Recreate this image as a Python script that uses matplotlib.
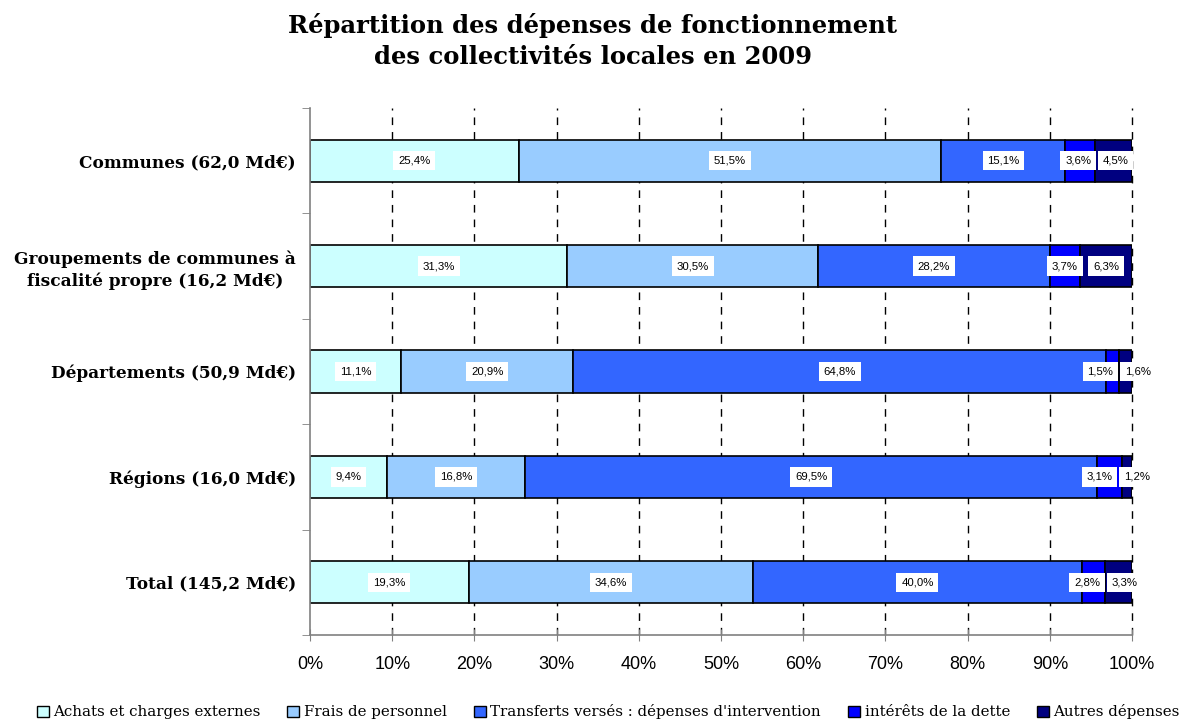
import matplotlib
matplotlib.use("Agg")
import matplotlib.pyplot as plt
import numpy as np
from matplotlib.patches import Patch

categories = ["Communes (62,0 Md€)",
              "Groupements de communes à\nfiscalité propre (16,2 Md€)",
              "Départements (50,9 Md€)",
              "Régions (16,0 Md€)",
              "Total (145,2 Md€)"]
series_names = ["Achats et charges externes", "Frais de personnel",
                "Transferts versés : dépenses d'intervention",
                "intérêts de la dette", "Autres dépenses"]
achats = [25.4, 31.3, 11.1, 9.4, 19.3]
frais = [51.5, 30.5, 20.9, 16.8, 34.6]
transferts = [15.1, 28.2, 64.8, 69.5, 40.0]
interets = [3.6, 3.7, 1.5, 3.1, 2.8]
autres = [4.5, 6.3, 1.6, 1.2, 3.3]
colors = ["#CCFFFF", "#99CCFF", "#3366FF", "#0000FF", "#000080"]
xtick_labels = ["0%", "10%", "20%", "30%", "40%", "50%", "60%", "70%", "80%", "90%", "100%"]

data = np.array([achats, frais, transferts, interets, autres], dtype=float)
shares = data / data.sum(axis=0) * 100  # 100% stacked

fig = plt.figure(figsize=(11.81, 7.2), dpi=100)
ax = fig.add_axes([310/1181, 1-635/720, (1132-310)/1181, (635-108)/720])

y = np.arange(len(categories))
left = np.zeros(len(categories))
texts = [[] for _ in categories]
for i in range(len(series_names)):
    ax.barh(y, shares[i], left=left, height=0.4, color=colors[i],
            edgecolor="black", linewidth=1.2, zorder=3)
    for j in range(len(categories)):
        t = ax.text(left[j] + shares[i][j] / 2, y[j],
                    f"{data[i][j]:.1f}%".replace(".", ","),
                    ha="center", va="center", fontsize=8.2,
                    family="Liberation Sans", zorder=5,
                    bbox=dict(boxstyle="square,pad=0.42", fc="white", ec="none"))
        texts[j].append(t)
    left += shares[i]

ax.set_xlim(0, 100)
ax.set_ylim(len(categories) - 0.5, -0.5)
ax.set_xticks(np.arange(0, 101, 10))
ax.set_xticklabels(xtick_labels, family="Liberation Sans", fontsize=13)
ax.tick_params(axis="x", direction="inout", length=8, color="#808080", pad=11)
ax.set_yticks(y)
ax.set_yticklabels(categories, family="DejaVu Serif", fontweight="bold",
                   fontsize=12.2, linespacing=1.35, multialignment="center")
ax.tick_params(axis="y", which="major", length=0, pad=14)
ax.set_yticks(np.arange(-0.5, len(categories), 1), minor=True)
ax.tick_params(axis="y", which="minor", direction="out", length=6, color="#808080")
ax.tick_params(axis="y", which="major", pad=10)
for s in ["top", "right"]:
    ax.spines[s].set_visible(False)
for s in ["left", "bottom"]:
    ax.spines[s].set_color("#808080")
    ax.spines[s].set_linewidth(1.2)
    ax.spines[s].set_zorder(4)
ax.xaxis.grid(True, color="black", linestyle=(0, (5.5, 5)), linewidth=1, zorder=0)
ax.set_axisbelow(True)
gl = ax.get_xgridlines()
for line in gl:
    line.set_clip_on(False)
gl[0].set_visible(False)

# resolve overlapping labels within each row
fig.canvas.draw()
renderer = fig.canvas.get_renderer()
inv = ax.transData.inverted()
for row in texts:
    for _ in range(10):
        moved = False
        for k in range(len(row) - 1):
            b1 = row[k].get_bbox_patch().get_window_extent(renderer)
            b2 = row[k + 1].get_bbox_patch().get_window_extent(renderer)
            overlap = b1.x1 + 2 - b2.x0
            if overlap > 0.5:
                for t, d in ((row[k], -overlap / 2), (row[k + 1], overlap / 2)):
                    xd, yd = t.get_position()
                    px, py = ax.transData.transform((xd, yd))
                    nx, _ = inv.transform((px + d, py))
                    t.set_position((nx, yd))
                moved = True
        fig.canvas.draw()
        if not moved:
            break

fig.suptitle("Répartition des dépenses de fonctionnement\ndes collectivités locales en 2009",
             x=0.502, y=0.982, family="DejaVu Serif", fontweight="heavy", fontsize=17.5,
             linespacing=1.38)

handles = [Patch(facecolor=c, edgecolor="black", linewidth=1) for c in colors]
fig.legend(handles, series_names, loc="lower center", bbox_to_anchor=(0.515, -0.018),
           ncol=5, frameon=False, prop={"family": "DejaVu Serif", "size": 10.8},
           handlelength=0.8, handleheight=0.8, handletextpad=0.3, columnspacing=1.8)

fig.savefig("out.png", dpi=100)
